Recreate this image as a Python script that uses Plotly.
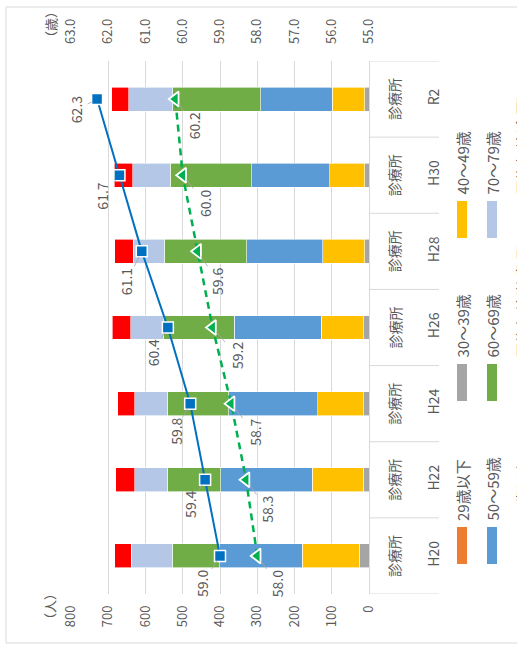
import plotly.graph_objects as go

# ---------------- data ----------------
years = ["H20", "H22", "H24", "H26", "H28", "H30", "R2"]
facility = "診療所"

age_groups = ["29歳以下", "30～39歳", "40～49歳", "50～59歳", "60～69歳", "70～79歳", "80歳以上"]
age_colors = ["#ED7D31", "#A5A5A5", "#FFC000", "#5B9BD5", "#70AD47", "#B4C7E7", "#FF0000"]

under29 = [0, 0, 0, 0, 0, 0, 0]
age30s = [26, 16, 14, 14, 12, 12, 12]
age40s = [153, 136, 123, 114, 112, 94, 87]
age50s = [222, 246, 239, 234, 204, 209, 191]
age60s = [127, 143, 166, 189, 222, 218, 237]
age70s = [110, 88, 87, 89, 83, 101, 118]
over80 = [44, 51, 46, 49, 49, 50, 45]

avg_local_name = "平均年齢(徳島県)"
avg_nat_name = "平均年齢(全国)"
avg_local = [59.0, 59.4, 59.8, 60.4, 61.1, 61.7, 62.3]
avg_nat = [58.0, 58.3, 58.7, 59.2, 59.6, 60.0, 60.2]

count_ticks = [0, 100, 200, 300, 400, 500, 600, 700, 800]
age_ticks = [55, 56, 57, 58, 59, 60, 61, 62, 63]

# ---------------- styling / layout constants ----------------
FONT = "Noto Sans CJK JP"
GRAY_TXT = "#595959"
GRID = "#D9D9D9"
W, H = 517, 649
PL, PR, PT, PB = 71, 369, 61, 594  # plot area in pixels


def px(xp):
    return (xp - PL) / (PR - PL)


def py(yp):
    return (PB - yp) / (PB - PT)


series = [under29, age30s, age40s, age50s, age60s, age70s, over80]

fig = go.Figure()
for name, vals, col in zip(age_groups, series, age_colors):
    fig.add_trace(go.Bar(
        y=years, x=vals, name=name, orientation="h",
        marker=dict(color=col, line=dict(color="white", width=0.6)),
        xaxis="x", yaxis="y", showlegend=False,
    ))

fig.add_trace(go.Scatter(
    y=years, x=avg_local, name=avg_local_name, mode="lines+markers",
    line=dict(color="#0070C0", width=2),
    marker=dict(symbol="square", size=11, color="#0070C0", line=dict(color="white", width=1.5)),
    xaxis="x2", yaxis="y", showlegend=False,
))
fig.add_trace(go.Scatter(
    y=years, x=avg_nat, name=avg_nat_name, mode="lines+markers",
    line=dict(color="#00B050", width=2.5, dash="7px,5px"),
    marker=dict(symbol="triangle-left", size=13, color="#00B050", line=dict(color="white", width=1.8)),
    xaxis="x2", yaxis="y", showlegend=False,
))

annotations = []
shapes = []

# data labels (offsets in pixels, label-placement styling)
local_offsets = [(-18, 28), (-15, 25), (-15, 28), (-15, 25), (-15, 30), (-17, 21), (-21, 11)]
nat_offsets = [(20, 28), (21, 30), (23, 29), (24, 28), (20, 30), (22, 28), (19, 27)]
for vals, offs in ((avg_local, local_offsets), (avg_nat, nat_offsets)):
    for yr, v, (dx, dy) in zip(years, vals, offs):
        annotations.append(dict(
            x=v, y=yr, xref="x2", yref="y", text=f"{v:.1f}", textangle=-90,
            showarrow=True, arrowhead=0, arrowwidth=0.8, arrowcolor="#A6A6A6",
            ax=dx, ay=dy, standoff=6,
            font=dict(family=FONT, size=14, color=GRAY_TXT),
        ))

# facility labels in category cells
for yr in years:
    annotations.append(dict(
        x=px(394), y=yr, xref="paper", yref="y", text=facility, textangle=-90,
        showarrow=False, xanchor="center", yanchor="middle",
        font=dict(family=FONT, size=14, color=GRAY_TXT),
    ))

# category cell borders
for i in range(len(years) + 1):
    shapes.append(dict(type="line", xref="paper", yref="y",
                       x0=1, x1=px(439), y0=i - 0.5, y1=i - 0.5,
                       line=dict(color=GRID, width=1)))

# unit labels
annotations.append(dict(x=px(49), y=py(607), xref="paper", yref="paper", text="（人）",
                        textangle=-90, showarrow=False, xanchor="center", yanchor="middle",
                        font=dict(family=FONT, size=13, color=GRAY_TXT)))
annotations.append(dict(x=px(50), y=py(25), xref="paper", yref="paper", text="（歳）",
                        textangle=-90, showarrow=False, xanchor="center", yanchor="middle",
                        font=dict(family=FONT, size=13, color=GRAY_TXT)))

# legend (rotated, drawn manually)
legend_names = age_groups + [avg_local_name, avg_nat_name]
col_x = [462, 492, 522]
row_top = [527, 364, 201]
for k, name in enumerate(legend_names):
    c, r = divmod(k, 3)
    xc = col_x[c]
    yt = row_top[r]
    if k < len(age_groups):
        shapes.append(dict(type="rect", xref="paper", yref="paper",
                           x0=px(xc - 5), x1=px(xc + 5), y0=py(yt), y1=py(yt + 37),
                           fillcolor=age_colors[k], line=dict(width=0)))
    annotations.append(dict(x=px(xc), y=py(yt - 4), xref="paper", yref="paper",
                            text=name, textangle=-90, showarrow=False,
                            xanchor="center", yanchor="bottom",
                            font=dict(family=FONT, size=15, color=GRAY_TXT)))

# outer chart border
shapes.append(dict(type="rect", xref="paper", yref="paper",
                   x0=px(6), x1=px(540), y0=py(643), y1=py(7),
                   line=dict(color=GRID, width=1), fillcolor="rgba(0,0,0,0)", layer="below"))

fig.update_layout(
    width=W, height=H, template="none",
    margin=dict(l=PL, r=W - PR, t=PT, b=H - PB, pad=0),
    paper_bgcolor="white", plot_bgcolor="white",
    barmode="stack", bargap=0.685,
    font=dict(family=FONT, color=GRAY_TXT),
    xaxis=dict(range=[800, 0], tickvals=count_ticks, ticktext=[str(t) for t in count_ticks],
               tickangle=-90, showgrid=True, gridcolor=GRID, gridwidth=1,
               zeroline=False, showline=False, ticks="", ticklabelstandoff=8,
               tickfont=dict(family=FONT, size=13, color=GRAY_TXT), automargin=False),
    xaxis2=dict(range=[63, 55], overlaying="x", side="top", anchor="y",
                tickvals=age_ticks, ticktext=[f"{t:.1f}" for t in age_ticks],
                tickangle=-90, showgrid=False, zeroline=False, showline=False, ticks="",
                ticklabelstandoff=16,
                tickfont=dict(family=FONT, size=13, color=GRAY_TXT), automargin=False),
    yaxis=dict(type="category", categoryorder="array", categoryarray=years,
               range=[-0.5, len(years) - 0.5], side="right",
               showline=True, linecolor=GRID, linewidth=1, showgrid=False, zeroline=False,
               ticks="", tickangle=-90, ticklabelstandoff=52,
               tickfont=dict(family=FONT, size=14, color=GRAY_TXT), automargin=False),
    annotations=annotations, shapes=shapes,
)

fig.write_html("out.html", config={"displayModeBar": False},
               post_script="document.body.style.margin='0';")
